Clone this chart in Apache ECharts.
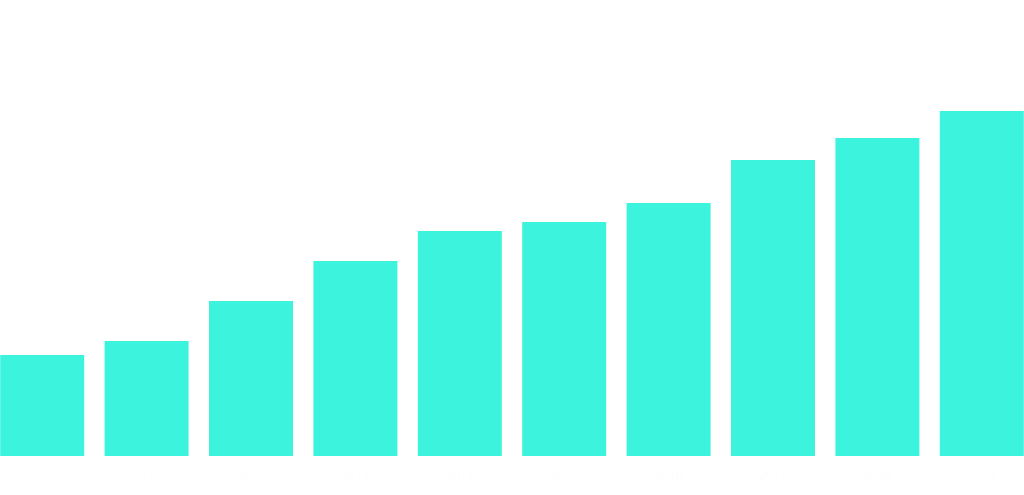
<!DOCTYPE html>
<html>
<head>
<meta charset="utf-8">
<script src="https://cdn.jsdelivr.net/npm/echarts@6/dist/echarts.min.js"></script>
<style>
html,body{margin:0;padding:0;background:#ffffff;overflow:hidden;}
#chart{width:1044px;height:495px;margin-left:-10px;}
</style>
</head>
<body>
<div id="chart"></div>
<script>
var categories = ['2010','2011','2012','2013','2014','2015','2016','2017','2018','2019'];
var values = [10.1, 11.5, 15.5, 19.5, 22.5, 23.4, 25.3, 29.6, 31.8, 34.5];

var chart = echarts.init(document.getElementById('chart'), null, {renderer:'canvas'});
chart.setOption({
  backgroundColor: '#ffffff',
  animation: false,
  grid: {left: 0, right: 0, top: 56, bottom: 39, containLabel: false},
  xAxis: {
    type: 'category',
    data: categories,
    axisLine: {show: false},
    axisTick: {show: false},
    axisLabel: {color: '#fdfdfd', fontSize: 12, margin: 14, fontFamily: 'Noto Sans'}
  },
  yAxis: {
    type: 'value',
    min: 0,
    max: 40,
    show: false,
    splitLine: {show: false}
  },
  series: [{
    type: 'bar',
    data: values,
    barWidth: 84,
    itemStyle: {color: '#3cf4de'}
  }]
});
</script>
</body>
</html>
